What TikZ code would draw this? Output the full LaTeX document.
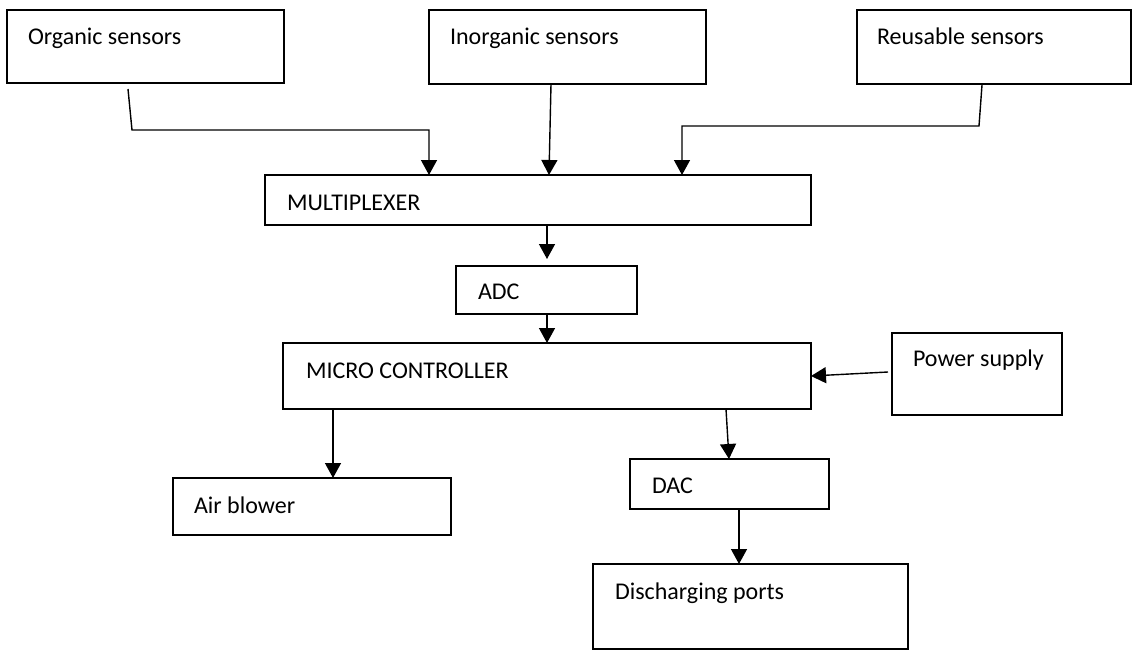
\documentclass[tikz,border=0pt]{standalone}
\usepackage{fontspec}
\setmainfont{Carlito}
\usetikzlibrary{arrows.meta,calc}
\begin{document}
\begin{tikzpicture}[x=1pt,y=-1pt,
  box/.style={draw=black,line width=2.2pt,inner sep=0pt,outer sep=0pt,rectangle},
  lbl/.style={anchor=base west,inner sep=0pt,outer sep=0pt,font=\fontsize{24}{29}\selectfont},
  conn/.style={draw=black,line width=1.4pt},
  arr/.style={conn,-{Triangle[width=16pt,length=15pt]}}]
\useasboundingbox (0,0) rectangle (1133,651);
% boxes
\node[box,minimum width=277pt,minimum height=73pt] (org) at (145.5,46.5) {};
\node[box,minimum width=277pt,minimum height=74pt] (inorg) at (567.5,47) {};
\node[box,minimum width=274pt,minimum height=74pt] (reus) at (994,47) {};
\node[box,minimum width=546pt,minimum height=50pt] (mux) at (538,200) {};
\node[box,minimum width=181pt,minimum height=48pt] (adc) at (546.5,290) {};
\node[box,minimum width=528pt,minimum height=66pt] (mc) at (547,376) {};
\node[box,minimum width=170pt,minimum height=82pt] (pow) at (977,374) {};
\node[box,minimum width=278pt,minimum height=57pt] (air) at (312,506.5) {};
\node[box,minimum width=199pt,minimum height=50pt] (dac) at (729.5,484) {};
\node[box,minimum width=315pt,minimum height=85pt] (dis) at (750.5,606.5) {};
% labels
\node[lbl] (torg) at (28,44) {Organic sensors};
\node[lbl] (tinorg) at (450,44) {Inorganic sensors};
\node[lbl] (treus) at (877,44) {Reusable sensors};
\node[lbl] (tmux) at (287,210) {MULTIPLEXER};
\node[lbl] (tadc) at (478,299) {ADC};
\node[lbl] (tmc) at (306,378) {MICRO CONTROLLER};
\node[lbl] (tpow) at (913,366) {Power supply};
\node[lbl] (tair) at (194,513) {Air blower};
\node[lbl] (tdac) at (652,493) {DAC};
\node[lbl] (tdis) at (615,599) {Discharging ports};
% connector end points
\coordinate (o1) at ($(org.south west)+(121,6)$);
\coordinate (o2) at ($(org.south west)+(125,47)$);
\coordinate (r1) at ($(reus.south west)+(125,1)$);
\coordinate (r2) at ($(reus.south west)+(122,42)$);
\coordinate (m1) at ($(mux.north west)+(164,0)$);
\coordinate (m2) at ($(mux.north west)+(284,0)$);
\coordinate (m3) at ($(mux.north west)+(417,0)$);
\coordinate (i1) at ($(inorg.south west)+(122,0)$);
% connectors
\draw[arr] (o1) -- (o2) -| (m1);
\draw[arr] (i1) -- (m2);
\draw[arr] (r1) -- (r2) -| (m3);
\draw[arr] ($(mux.south west)+(282,0)$) -- ($(adc.north west)+(91,-7)$);
\draw[arr] ($(adc.south west)+(91,0)$) -- ($(mc.north west)+(264,0)$);
\draw[arr] ($(pow.west)+(-4,-2)$) -- (mc.east);
\draw[arr] ($(mc.south west)+(50,0)$) -- ($(air.north west)+(160,0)$);
\draw[arr] ($(mc.south west)+(443,0)$) -- ($(dac.north west)+(99,0)$);
\draw[arr] ($(dac.south west)+(109,0)$) -- ($(dis.north west)+(146,0)$);
\end{tikzpicture}
\end{document}
